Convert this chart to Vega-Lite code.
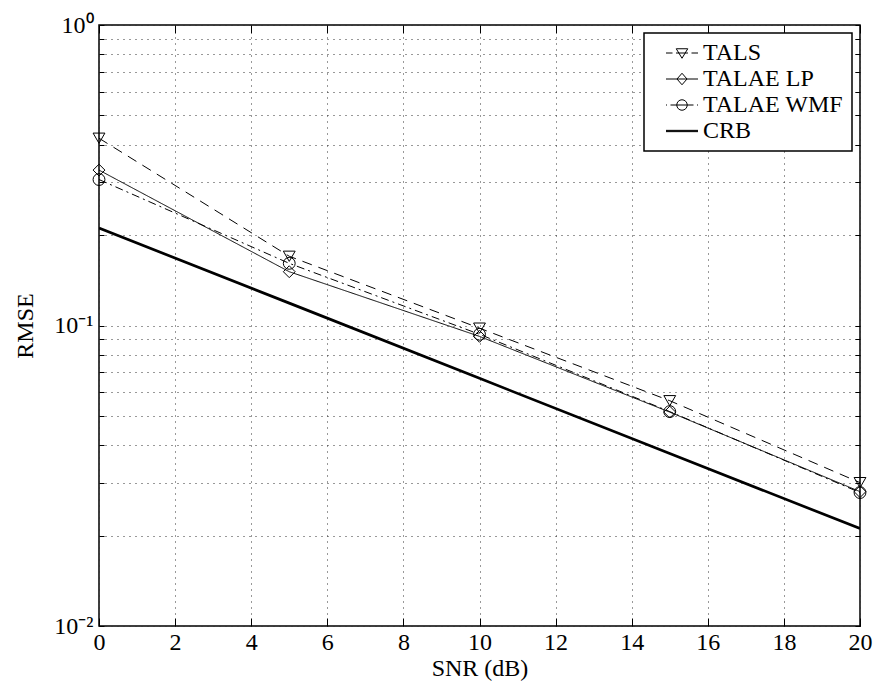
{
  "$schema": "https://vega.github.io/schema/vega-lite/v6.json",
  "width": 761,
  "height": 601,
  "autosize": {"type": "none"},
  "padding": {"left": 99, "top": 25, "right": 16, "bottom": 71},
  "background": "white",
  "config": {
    "font": "Times New Roman, Liberation Serif, serif",
    "view": {"stroke": "black", "strokeWidth": 1.5},
    "axis": {
      "labelFont": "Times New Roman, Liberation Serif, serif",
      "titleFont": "Times New Roman, Liberation Serif, serif",
      "labelFontSize": 24,
      "titleFontSize": 24,
      "titleFontWeight": "normal",
      "labelColor": "black",
      "titleColor": "black",
      "tickColor": "black",
      "tickWidth": 1,
      "domain": false,
      "labelFlush": false,
      "labelOverlap": false,
      "gridColor": "#333",
      "gridDash": [1, 5],
      "gridOpacity": 1,
      "gridWidth": 1
    },
    "legend": {"strokeWidth": 1.5}
  },
  "data": {
    "values": [
      {"snr": 0, "rmse": 0.42, "method": "TALS"},
      {"snr": 5, "rmse": 0.170, "method": "TALS"},
      {"snr": 10, "rmse": 0.098, "method": "TALS"},
      {"snr": 15, "rmse": 0.0562, "method": "TALS"},
      {"snr": 20, "rmse": 0.0300, "method": "TALS"},
      {"snr": 0, "rmse": 0.329, "method": "TALAE LP"},
      {"snr": 5, "rmse": 0.151, "method": "TALAE LP"},
      {"snr": 10, "rmse": 0.092, "method": "TALAE LP"},
      {"snr": 15, "rmse": 0.0515, "method": "TALAE LP"},
      {"snr": 20, "rmse": 0.0280, "method": "TALAE LP"},
      {"snr": 0, "rmse": 0.306, "method": "TALAE WMF"},
      {"snr": 5, "rmse": 0.161, "method": "TALAE WMF"},
      {"snr": 10, "rmse": 0.0935, "method": "TALAE WMF"},
      {"snr": 15, "rmse": 0.0517, "method": "TALAE WMF"},
      {"snr": 20, "rmse": 0.0278, "method": "TALAE WMF"},
      {"snr": 0, "rmse": 0.211, "method": "CRB"},
      {"snr": 5, "rmse": 0.1187, "method": "CRB"},
      {"snr": 10, "rmse": 0.0667, "method": "CRB"},
      {"snr": 15, "rmse": 0.0375, "method": "CRB"},
      {"snr": 20, "rmse": 0.0211, "method": "CRB"}
    ]
  },
  "layer": [
    {
      "transform": [{"filter": "datum.method != 'CRB'"}],
      "mark": {"type": "line", "color": "black", "strokeWidth": 1, "clip": true},
      "encoding": {
        "x": {
          "field": "snr", "type": "quantitative",
          "scale": {"domain": [0, 20], "nice": false, "zero": false},
          "axis": {
            "orient": "bottom",
            "values": [0, 2, 4, 6, 8, 10, 12, 14, 16, 18, 20],
            "title": "SNR (dB)",
            "grid": true,
            "tickSize": -8,
            "labelPadding": 12,
            "titlePadding": 2
          }
        },
        "y": {
          "field": "rmse", "type": "quantitative",
          "scale": {"type": "log", "domain": [0.01, 1], "nice": false},
          "axis": {
            "orient": "left",
            "values": [0.01, 0.02, 0.03, 0.04, 0.05, 0.06, 0.07, 0.08, 0.09, 0.1, 0.2, 0.3, 0.4, 0.5, 0.6, 0.7, 0.8, 0.9, 1],
            "labelExpr": "abs(datum.value - 1) < 1e-9 ? '10⁰' : abs(datum.value - 0.1) < 1e-9 ? '10⁻¹' : abs(datum.value - 0.01) < 1e-9 ? '10⁻²' : ''",
            "title": "RMSE",
            "grid": true,
            "tickSize": -5,
            "labelPadding": 11,
            "titlePadding": 16
          }
        },
        "strokeDash": {
          "field": "method", "type": "nominal",
          "scale": {"domain": ["TALS", "TALAE LP", "TALAE WMF"], "range": [[10, 7], [1, 0], [8, 4, 2, 4]]},
          "legend": null
        }
      }
    },
    {
      "transform": [{"filter": "datum.method == 'CRB'"}],
      "mark": {"type": "line", "color": "black", "strokeWidth": 2.7, "clip": true},
      "encoding": {
        "x": {"field": "snr", "type": "quantitative", "axis": null},
        "y": {"field": "rmse", "type": "quantitative", "axis": null}
      }
    },
    {
      "transform": [{"filter": "datum.method != 'CRB'"}],
      "mark": {"type": "point", "color": "black", "filled": false, "size": 140, "strokeWidth": 1, "opacity": 1},
      "encoding": {
        "x": {
          "field": "snr", "type": "quantitative",
          "axis": {"orient": "top", "values": [0, 2, 4, 6, 8, 10, 12, 14, 16, 18, 20], "labels": false, "title": null, "grid": false, "tickSize": -8}
        },
        "y": {
          "field": "rmse", "type": "quantitative",
          "axis": {"orient": "right", "values": [0.01, 0.02, 0.03, 0.04, 0.05, 0.06, 0.07, 0.08, 0.09, 0.1, 0.2, 0.3, 0.4, 0.5, 0.6, 0.7, 0.8, 0.9, 1], "labels": false, "title": null, "grid": false, "tickSize": -5}
        },
        "shape": {
          "field": "method", "type": "nominal",
          "scale": {"domain": ["TALS", "TALAE LP", "TALAE WMF"], "range": ["triangle-down", "diamond", "circle"]},
          "legend": null
        }
      }
    },
    {
      "mark": {"type": "point", "color": "black", "filled": false, "size": 100, "opacity": 0},
      "encoding": {
        "x": {"field": "snr", "type": "quantitative", "axis": null},
        "y": {"field": "rmse", "type": "quantitative", "axis": null},
        "shape": {
          "field": "method", "type": "nominal",
          "scale": {
            "domain": ["TALS", "TALAE LP", "TALAE WMF", "CRB"],
            "range": [
              "M-3.2,0H-1.9M-1.2,0H1.2M1.9,0H3.2M-1.15,-0.85L1.15,-0.85L0,1.05Z",
              "M-3.2,0H3.2M0,-1.15L1,0L0,1.15L-1,0Z",
              "M-3.2,0H-3.0M-2.3,0H2.3M3.0,0H3.2M1.05,0A1.05,1.05,0,1,1,-1.05,0A1.05,1.05,0,1,1,1.05,0Z",
              "M-3.2,0H3.2M-3.2,0.13H3.2M-3.2,-0.13H3.2"
            ]
          },
          "legend": {
            "title": null,
            "orient": "top-right",
            "offset": 8,
            "labelFont": "Times New Roman, Liberation Serif, serif",
            "labelFontSize": 24,
            "labelColor": "black",
            "symbolOpacity": 1,
            "symbolStrokeColor": "black",
            "symbolStrokeWidth": 1,
            "symbolFillColor": "transparent",
            "symbolSize": 100,
            "symbolOffset": 18,
            "labelOffset": 9,
            "padding": 8,
            "rowPadding": 2,
            "strokeColor": "black",
            "fillColor": "white",
            "cornerRadius": 0
          }
        }
      }
    }
  ],
  "resolve": {
    "scale": {"shape": "independent"},
    "legend": {"shape": "independent"},
    "axis": {"x": "independent", "y": "independent"}
  }
}
